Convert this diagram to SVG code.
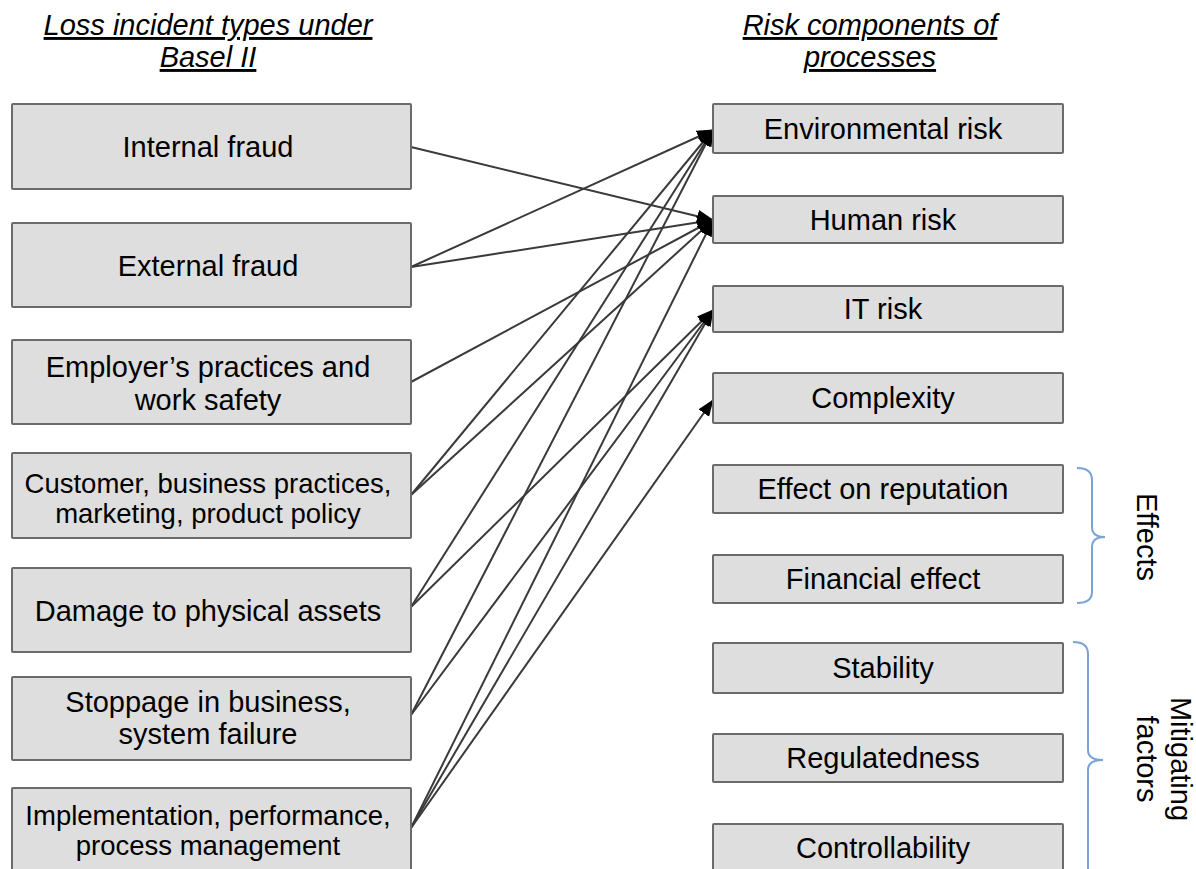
<svg xmlns="http://www.w3.org/2000/svg" width="1196" height="869" viewBox="0 0 1196 869">
<style>
.box{fill:#dedede;stroke:#6b6b6b;stroke-width:2}
.t{font-family:"Liberation Sans",Arial,sans-serif;font-size:29px;fill:#000;text-anchor:middle}
.s{font-size:27.5px}
.h{font-style:italic;text-decoration:underline}
.c{stroke:#3a3a3a;stroke-width:2;fill:none;marker-end:url(#arr)}
.br{stroke:#7aa3d6;stroke-width:2;fill:none}
</style>
<defs>
<marker id="arr" markerUnits="userSpaceOnUse" markerWidth="18" markerHeight="14" refX="16" refY="6.5" orient="auto">
<path d="M0,0 L17,6.5 L0,13 Z" fill="#000"/>
</marker>
</defs>
<g id="headers">
<text class="t h" x="208" y="35">Loss incident types under</text>
<text class="t h" x="208" y="67">Basel II</text>
<text class="t h" x="870" y="35">Risk components of</text>
<text class="t h" x="870" y="67">processes</text>
</g>
<g id="connectors">
<line class="c" x1="411" y1="147" x2="713" y2="220"/>
<line class="c" x1="411" y1="267" x2="713" y2="130"/>
<line class="c" x1="411" y1="267" x2="713" y2="220"/>
<line class="c" x1="411" y1="382" x2="713" y2="220"/>
<line class="c" x1="411" y1="495" x2="713" y2="130"/>
<line class="c" x1="411" y1="495" x2="713" y2="220"/>
<line class="c" x1="411" y1="607" x2="713" y2="130"/>
<line class="c" x1="411" y1="607" x2="713" y2="310"/>
<line class="c" x1="411" y1="715" x2="713" y2="130"/>
<line class="c" x1="411" y1="715" x2="713" y2="310"/>
<line class="c" x1="411" y1="828" x2="713" y2="220"/>
<line class="c" x1="411" y1="828" x2="713" y2="310"/>
<line class="c" x1="411" y1="828" x2="713" y2="400"/>
</g>
<g id="internal-fraud"><rect class="box" x="12" y="104" width="399" height="85" rx="1"/><text class="t" x="208" y="157">Internal fraud</text></g>
<g id="external-fraud"><rect class="box" x="12" y="223" width="399" height="84" rx="1"/><text class="t" x="208" y="276">External fraud</text></g>
<g id="employer"><rect class="box" x="12" y="340" width="399" height="84" rx="1"/><text class="t" x="208" y="377">Employer’s practices and</text><text class="t" x="208" y="410">work safety</text></g>
<g id="customer"><rect class="box" x="12" y="453" width="399" height="85" rx="1"/><text class="t s" x="208" y="493">Customer, business practices,</text><text class="t s" x="208" y="523">marketing, product policy</text></g>
<g id="damage"><rect class="box" x="12" y="568" width="399" height="84" rx="1"/><text class="t" x="208" y="621">Damage to physical assets</text></g>
<g id="stoppage"><rect class="box" x="12" y="677" width="399" height="83" rx="1"/><text class="t" x="208" y="712">Stoppage in business,</text><text class="t" x="208" y="744">system failure</text></g>
<g id="implementation"><rect class="box" x="12" y="788" width="399" height="90" rx="1"/><text class="t s" x="208" y="825">Implementation, performance,</text><text class="t s" x="208" y="855">process management</text></g>
<g id="environmental-risk"><rect class="box" x="713" y="104" width="350" height="49" rx="1"/><text class="t" x="883" y="139">Environmental risk</text></g>
<g id="human-risk"><rect class="box" x="713" y="196" width="350" height="47" rx="1"/><text class="t" x="883" y="230">Human risk</text></g>
<g id="it-risk"><rect class="box" x="713" y="286" width="350" height="46" rx="1"/><text class="t" x="883" y="319">IT risk</text></g>
<g id="complexity"><rect class="box" x="713" y="373" width="350" height="50" rx="1"/><text class="t" x="883" y="408">Complexity</text></g>
<g id="reputation"><rect class="box" x="713" y="465" width="350" height="48" rx="1"/><text class="t" x="883" y="499">Effect on reputation</text></g>
<g id="financial"><rect class="box" x="713" y="555" width="350" height="48" rx="1"/><text class="t" x="883" y="589">Financial effect</text></g>
<g id="stability"><rect class="box" x="713" y="643" width="350" height="50" rx="1"/><text class="t" x="883" y="678">Stability</text></g>
<g id="regulatedness"><rect class="box" x="713" y="734" width="350" height="48" rx="1"/><text class="t" x="883" y="768">Regulatedness</text></g>
<g id="controllability"><rect class="box" x="713" y="824" width="350" height="50" rx="1"/><text class="t" x="883" y="858">Controllability</text></g>
<g id="effects-bracket">
<path class="br" d="M1077,468 Q1092,468 1092,480 L1092,527 Q1092,537 1105,537 Q1092,537 1092,547 L1092,592 Q1092,603 1077,603"/>
<text class="t" transform="translate(1137,537) rotate(90)" x="0" y="0">Effects</text>
</g>
<g id="mitigating-bracket">
<path class="br" d="M1073,642 Q1088,642 1088,654 L1088,750 Q1088,760 1103,760 Q1088,760 1088,770 L1088,875"/>
<text class="t" transform="translate(1154,759) rotate(90)" x="0" y="-17">Mitigating</text>
<text class="t" transform="translate(1154,759) rotate(90)" x="0" y="17">factors</text>
</g>
</svg>
